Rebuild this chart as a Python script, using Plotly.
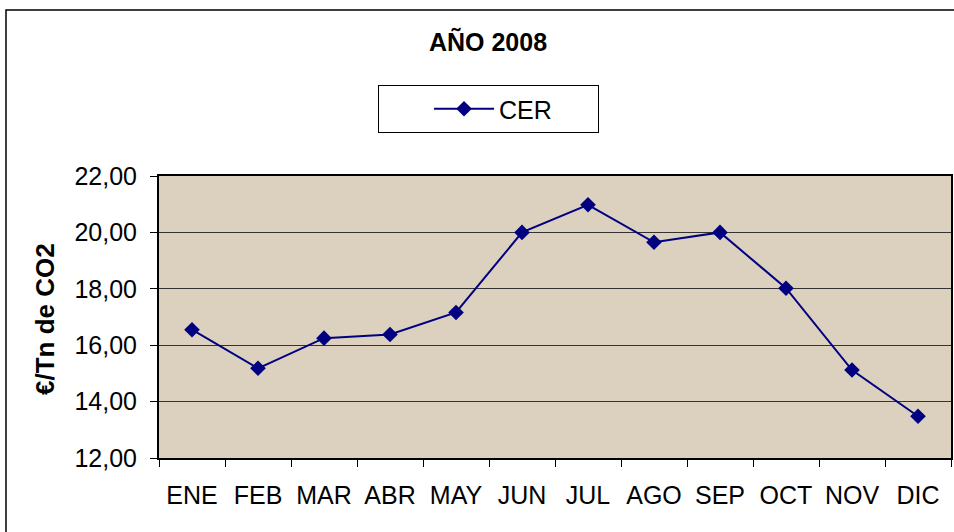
import plotly.graph_objects as go

months = ["ENE", "FEB", "MAR", "ABR", "MAY", "JUN", "JUL", "AGO", "SEP", "OCT", "NOV", "DIC"]
cer = [16.55, 15.18, 16.25, 16.38, 17.16, 20.0, 20.98, 19.65, 20.0, 18.02, 15.12, 13.48]
y_ticks = [12, 14, 16, 18, 20, 22]

W, H = 954, 532
ml, mr, mt, mb = 159, 3, 176, 74
pw, ph = W - ml - mr, H - mt - mb

def px_x(p):
    return (p - ml) / pw

def px_y(p):
    return (H - mb - p) / ph

navy = "#000080"
font = "Liberation Sans, Arial, sans-serif"

fig = go.Figure()
fig.add_trace(go.Scatter(
    x=months, y=cer, name="CER", mode="lines+markers",
    line=dict(color=navy, width=2),
    marker=dict(symbol="diamond", size=12, color=navy),
))

fig.update_layout(
    width=W, height=H,
    margin=dict(l=ml, r=mr, t=mt, b=mb),
    paper_bgcolor="white",
    plot_bgcolor="#dbd1be",
    separators=",.",
    font=dict(family=font, size=25, color="black"),
    title=dict(text="<b>AÑO 2008</b>", x=488 / W, xref="container", xanchor="center",
               y=1 - 42 / H, yref="container", yanchor="middle",
               font=dict(family=font, size=25, color="black")),
    showlegend=True,
    legend=dict(x=px_x(378), y=px_y(85), xanchor="left", yanchor="top",
                bordercolor="black", borderwidth=1, bgcolor="white",
                orientation="h", entrywidth=93, itemwidth=60,
                title=dict(text="&nbsp;" * 6, side="left", font=dict(family=font, size=24)),
                font=dict(family=font, size=25, color="black")),
    xaxis=dict(type="category", range=[-0.5, 11.5], showline=True, linecolor="black",
               linewidth=2, mirror=True,
               ticks="outside", ticklen=7, tickcolor="black", tickson="boundaries",
               showgrid=False, ticklabelstandoff=14, automargin=False,
               tickfont=dict(family=font, size=25, color="black")),
    yaxis=dict(range=[12, 22], tickvals=y_ticks, tickformat=".2f",
               showline=True, linecolor="black", linewidth=2, mirror=True,
               ticks="outside", ticklen=7, tickcolor="black",
               showgrid=True, gridcolor="#333333", gridwidth=1, zeroline=False,
               ticklabelstandoff=8, automargin=False,
               tickfont=dict(family=font, size=25, color="black")),
)

fig.add_annotation(text="<b>€/Tn de CO2</b>", textangle=-90, xref="paper", yref="paper",
                   x=px_x(45), y=px_y(319), xanchor="center", yanchor="middle",
                   showarrow=False, font=dict(family=font, size=26, color="black"))

fig.add_shape(type="rect", xref="paper", yref="paper",
              x0=px_x(6), y0=px_y(10), x1=px_x(970), y1=px_y(560),
              line=dict(color="black", width=1.5), fillcolor="rgba(0,0,0,0)", layer="below")

fig.write_html("out.html", config={"displayModeBar": False},
               post_script="document.body.style.margin='0';document.body.style.overflow='hidden';")
